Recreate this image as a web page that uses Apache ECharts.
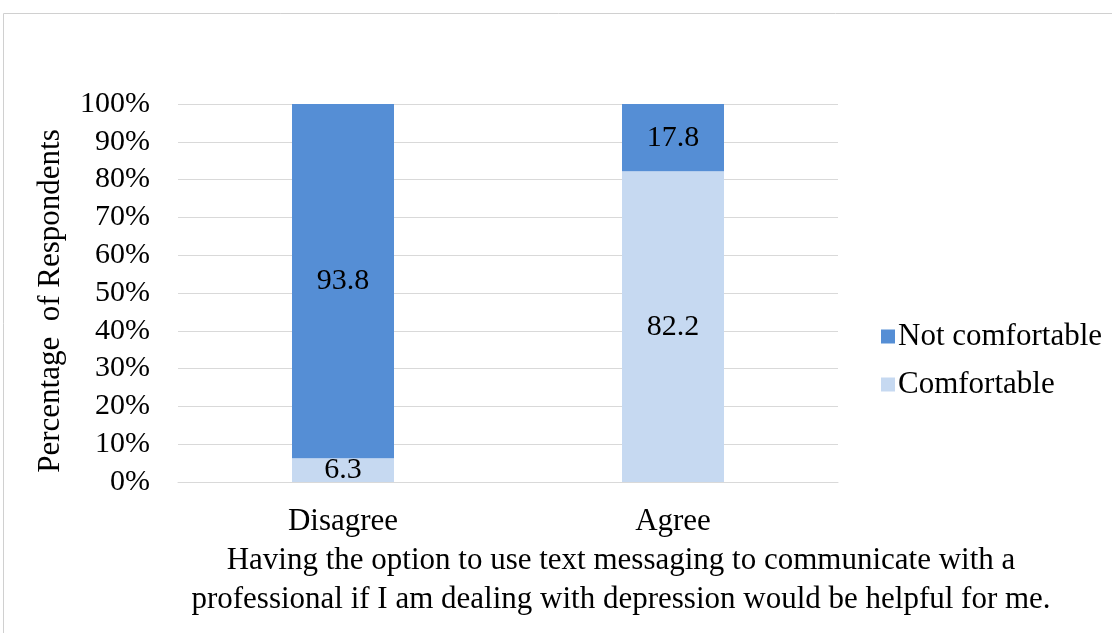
<!DOCTYPE html>
<html><head><meta charset="utf-8">
<script src="https://cdn.jsdelivr.net/npm/echarts@6/dist/echarts.min.js"></script>
<style>html,body{margin:0;padding:0;background:#fff;}#c{width:1112px;height:633px;}</style>
</head><body><div id="c"></div>
<script>
var categories = ['Disagree', 'Agree'];
var notComfortable = [93.8, 17.8];
var comfortable = [6.3, 82.2];
var yTicks = [0, 10, 20, 30, 40, 50, 60, 70, 80, 90, 100];
var xTitleLines = ['Having the option to use text messaging to communicate with a',
  'professional if I am dealing with depression would be helpful for me.'];
var FONT = '"Liberation Serif", "Times New Roman", serif';
var FS = 30;
var FS2 = 31;

var chart = echarts.init(document.getElementById('c'));
chart.setOption({
  animation: false,
  grid: {left: 178, right: 274, top: 104, bottom: 151},
  legend: {
    orient: 'vertical', left: 876, top: 316, itemWidth: 14, itemHeight: 14, itemGap: 17,
    icon: 'rect',
    textStyle: {fontFamily: FONT, fontSize: FS2, color: '#000', padding: [0, 0, 0, -2]},
    data: ['Not comfortable', 'Comfortable']
  },
  xAxis: {
    type: 'category', data: categories,
    axisLine: {lineStyle: {color: '#d9d9d9'}}, axisTick: {show: false},
    axisLabel: {fontFamily: FONT, fontSize: FS2, color: '#000', margin: 24}
  },
  yAxis: {
    type: 'value', min: yTicks[0], max: yTicks[yTicks.length - 1], interval: 10,
    name: 'Percentage  of Respondents', nameLocation: 'middle', nameGap: 112,
    nameTextStyle: {fontFamily: FONT, fontSize: FS2, color: '#000', padding: [0, 16, 0, 0]},
    axisLine: {show: false}, axisTick: {show: false},
    axisLabel: {fontFamily: FONT, fontSize: FS, color: '#000', margin: 28, formatter: '{value}%'},
    splitLine: {lineStyle: {color: '#d9d9d9', width: 1}}
  },
  series: [
    {name: 'Comfortable', type: 'bar', stack: 's', data: comfortable, barWidth: 102,
     itemStyle: {color: '#C6D9F1'},
     label: {show: true, position: 'inside', fontFamily: FONT, fontSize: FS, color: '#000'}},
    {name: 'Not comfortable', type: 'bar', stack: 's', data: notComfortable, barWidth: 102,
     itemStyle: {color: '#558ED5'},
     label: {show: true, position: 'inside', fontFamily: FONT, fontSize: FS, color: '#000'}}
  ],
  graphic: [
    {type: 'rect', shape: {x: 3.5, y: 13.5, width: 1120, height: 640}, style: {fill: null, stroke: '#d0d0d0', lineWidth: 1}, silent: true},
    {type: 'text', style: {text: xTitleLines[0], x: 621, y: 561, textAlign: 'center', textVerticalAlign: 'middle', fontFamily: FONT, fontSize: FS2, fill: '#000'}},
    {type: 'text', style: {text: xTitleLines[1], x: 621, y: 600, textAlign: 'center', textVerticalAlign: 'middle', fontFamily: FONT, fontSize: FS2, fill: '#000'}}
  ]
});
</script></body></html>
